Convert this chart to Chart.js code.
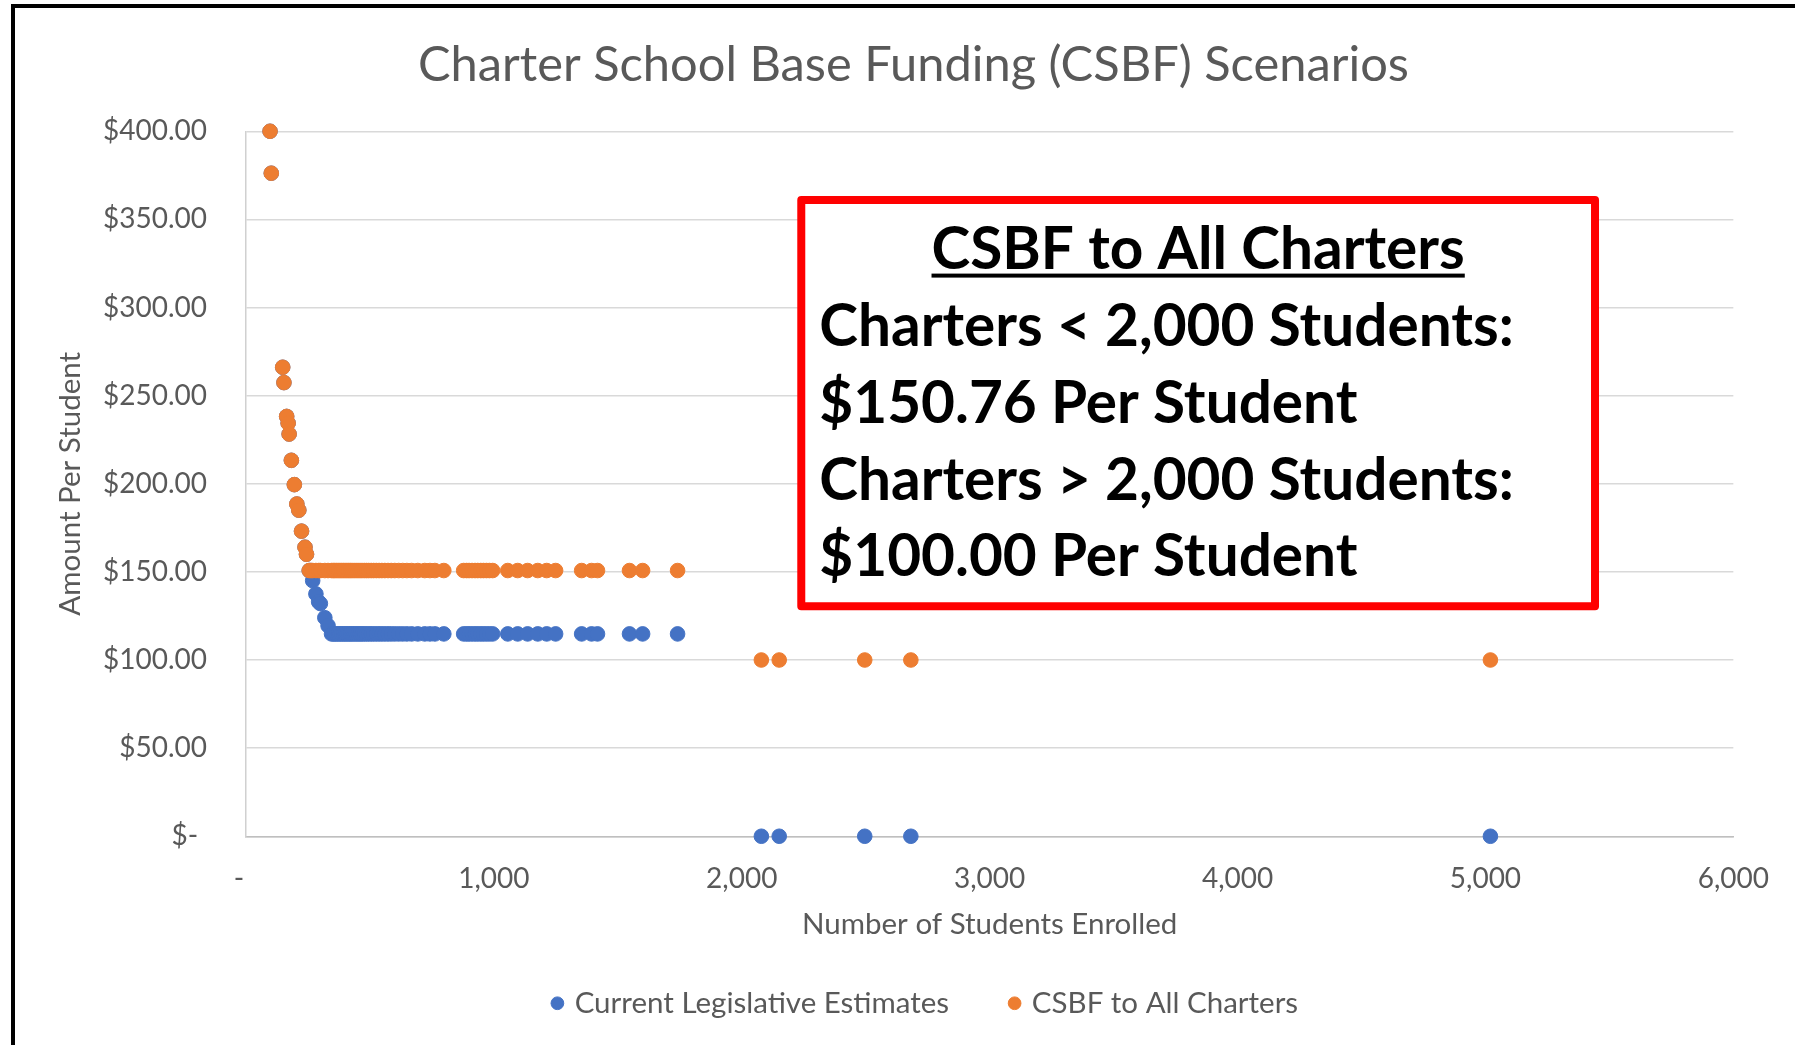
<!DOCTYPE html>
<html>
<head>
<meta charset="utf-8">
<script src="https://cdn.jsdelivr.net/npm/chart.js@4.4.1/dist/chart.umd.min.js"></script>
<style>
  html, body { margin: 0; padding: 0; background: #fff; overflow: hidden; }
  #wrap { position: relative; width: 1795px; height: 1045px; }
  #frame { position: absolute; left: 11px; top: 4px; width: 1800px; height: 1100px;
           border-left: 4px solid #000; border-top: 4px solid #000; pointer-events: none; }
</style>
</head>
<body>
<div id="wrap">
  <canvas id="myChart"></canvas>
  <div id="frame"></div>
</div>
<script>
const BLUE = '#4472C4';
const ORANGE = '#ED7D31';
const GREY = '#595959';

// small charters: both scenarios give the same amount
const smallEnroll = [97, 102, 148, 153, 164, 170, 174, 183, 195, 205, 213, 224, 238, 244];
const smallRate = [400, 376.2, 266.1, 257.4, 238.2, 234.4, 228.2, 213.3, 199.5, 188.5, 185, 173.1, 164, 160];

// transition charters: current estimate drops while CSBF stays flat
const midEnroll = [255, 262, 269, 282, 293, 300, 318, 331];
const midCurrent = [150.76, 150.76, 145, 137.5, 133, 132, 124, 119.5];

// flat band under 2,000 students
const flatEnroll = [345, 352, 358, 365, 372, 379, 386, 393, 400, 407, 414, 421, 428, 436, 444, 452,
  460, 468, 477, 486, 495, 505, 515, 526, 537, 548, 560, 573, 586, 600, 616, 632, 649, 668, 693,
  721, 742, 762, 798, 878, 890, 900, 912, 924, 935, 947, 958, 970, 982, 995,
  1056, 1096, 1136, 1177, 1213, 1249, 1354, 1394, 1418, 1547, 1600, 1741];
const CURRENT_FLAT = 114.8;
const CSBF_UNDER_2000 = 150.76;

// charters over 2,000 students
const largeEnroll = [2079, 2151, 2496, 2682, 5020];
const CURRENT_LARGE = 0;
const CSBF_OVER_2000 = 100;

const xTicks = [0, 1000, 2000, 3000, 4000, 5000, 6000];
const yTicks = [0, 50, 100, 150, 200, 250, 300, 350, 400];

const ANNOTATION_LINES = ['CSBF to All Charters', 'Charters < 2,000 Students:', '$150.76 Per Student',
  'Charters > 2,000 Students:', '$100.00 Per Student'];
const ANNOTATION_BOX = { xMin: 2240, xMax: 5442, yMin: 130.5, yMax: 361 };

const currentPoints = [];
const csbfPoints = [];
smallEnroll.forEach((n, i) => {
  currentPoints.push({ x: n, y: smallRate[i] });
  csbfPoints.push({ x: n, y: smallRate[i] });
});
midEnroll.forEach((n, i) => {
  currentPoints.push({ x: n, y: midCurrent[i] });
  csbfPoints.push({ x: n, y: CSBF_UNDER_2000 });
});
flatEnroll.forEach(n => {
  currentPoints.push({ x: n, y: CURRENT_FLAT });
  csbfPoints.push({ x: n, y: CSBF_UNDER_2000 });
});
largeEnroll.forEach(n => {
  currentPoints.push({ x: n, y: CURRENT_LARGE });
  csbfPoints.push({ x: n, y: CSBF_OVER_2000 });
});

// excel centres the title and legend on the whole chart, not the plot column
const centreShift = {
  id: 'centre_shift',
  afterLayout: (chart) => {
    chart.titleBlock.left += 17;
    chart.titleBlock.right += 17;
    chart.legend.left += 30;
    chart.legend.right += 30;
  }
};

const calloutBox = {
  id: 'callout_box',
  afterDraw: (chart) => {
    const { ctx, scales: { x, y } } = chart;
    const left = x.getPixelForValue(ANNOTATION_BOX.xMin);
    const right = x.getPixelForValue(ANNOTATION_BOX.xMax);
    const top = y.getPixelForValue(ANNOTATION_BOX.yMax);
    const bottom = y.getPixelForValue(ANNOTATION_BOX.yMin);
    ctx.save();
    ctx.fillStyle = '#ffffff';
    ctx.fillRect(left, top, right - left, bottom - top);
    ctx.lineWidth = 8;
    ctx.lineJoin = 'round';
    ctx.strokeStyle = '#FF0000';
    ctx.strokeRect(left, top, right - left, bottom - top);

    ctx.fillStyle = '#000000';
    ctx.font = 'bold 58.5px Lato';
    ctx.textBaseline = 'middle';
    const step = 76.7;
    ANNOTATION_LINES.forEach((line, i) => {
      const cy = top + 50.6 + i * step;
      if (i === 0) {
        ctx.textAlign = 'center';
        const cx = (left + right) / 2;
        ctx.fillText(line, cx, cy);
        const w = ctx.measureText(line).width;
        ctx.fillRect(cx - w / 2, cy + 23, w, 4);
      } else {
        ctx.textAlign = 'left';
        ctx.fillText(line, left + 18, cy);
      }
    });
    ctx.restore();
  }
};

Chart.defaults.font.family = 'Lato';
Chart.defaults.color = GREY;

const ctx = document.getElementById('myChart');
const myChart = new Chart(ctx, {
  type: 'scatter',
  data: {
    datasets: [
      {
        label: 'Current Legislative Estimates',
        data: currentPoints,
        backgroundColor: BLUE,
        borderColor: BLUE,
        borderWidth: 1,
        pointRadius: 7.3,
        pointHoverRadius: 7.3,
        clip: false,
        order: 1
      }, {
        label: 'CSBF to All Charters',
        data: csbfPoints,
        backgroundColor: ORANGE,
        borderColor: ORANGE,
        borderWidth: 1,
        pointRadius: 7.3,
        pointHoverRadius: 7.3,
        clip: false,
        order: 0
      }
    ]
  },
  options: {
    responsive: true,
    maintainAspectRatio: false,
    animation: false,
    layout: {
      padding: { left: 53, right: 55, top: 0, bottom: 17 }
    },
    plugins: {
      title: {
        display: true,
        text: 'Charter School Base Funding (CSBF) Scenarios',
        color: GREY,
        font: { size: 48.8, weight: 'normal' },
        padding: { top: 35.7, bottom: 37 }
      },
      legend: {
        position: 'bottom',
        labels: {
          color: GREY,
          usePointStyle: true,
          boxWidth: 5,
          boxHeight: 9,
          padding: 63,
          font: { size: 29.5 },
          sort: (a, b) => a.datasetIndex - b.datasetIndex
        }
      },
      tooltip: { enabled: false }
    },
    scales: {
      x: {
        type: 'linear',
        min: 0,
        max: 6000,
        afterBuildTicks: (scale) => { scale.ticks = xTicks.map(v => ({ value: v })); },
        afterFit: (scale) => { scale.height = 89.25; },
        grid: { display: false, drawTicks: false },
        border: { display: true, color: '#BFBFBF', width: 1.5 },
        ticks: {
          color: GREY,
          padding: 26,
          font: { size: 28 },
          callback: (v) => v === 0 ? '-  ' : v.toLocaleString('en-US')
        },
        title: {
          display: true,
          text: 'Number of Students Enrolled',
          color: GREY,
          font: { size: 29.5 },
          padding: { top: 0, bottom: -16.45 }
        }
      },
      y: {
        min: 0,
        max: 400,
        afterBuildTicks: (scale) => { scale.ticks = yTicks.map(v => ({ value: v })); },
        afterFit: (scale) => { scale.width = 193; },
        grid: { color: '#D9D9D9', lineWidth: 1.5, drawTicks: false },
        border: { display: true, color: '#D0D0D0', width: 1.5 },
        ticks: {
          color: GREY,
          padding: 39,
          font: { size: 28 },
          callback: (v) => v === 0 ? '$- \u200A' : '$' + v.toFixed(2)
        },
        title: {
          display: true,
          text: 'Amount Per Student',
          color: GREY,
          font: { size: 29.5 },
          padding: { top: 0, bottom: 10 }
        }
      }
    }
  },
  plugins: [centreShift, calloutBox]
});
</script>
</body>
</html>
